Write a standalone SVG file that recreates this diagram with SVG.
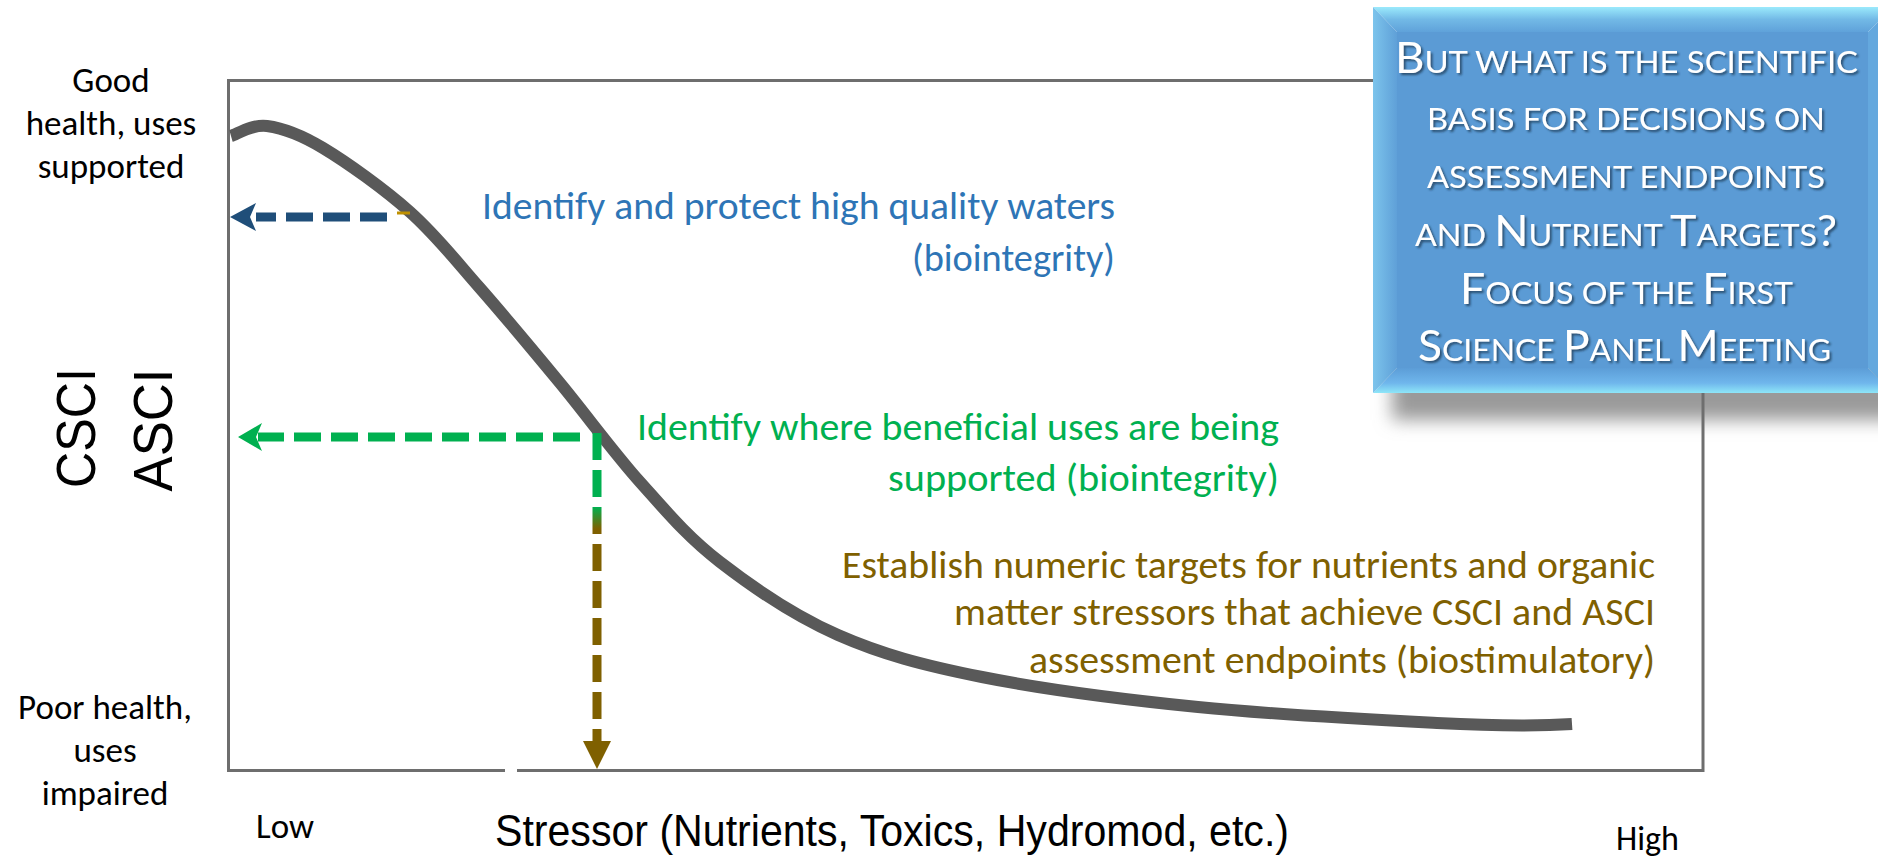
<svg xmlns="http://www.w3.org/2000/svg" width="1878" height="857" viewBox="0 0 1878 857">
<defs>
<style>
.lbl{font-family:Carlito,Calibri,Lato,"Liberation Sans",sans-serif;font-size:35px;fill:#000}
.note{font-family:Carlito,Calibri,Lato,"Liberation Sans",sans-serif;font-size:39.5px}
.geo{font-family:"Liberation Sans","DejaVu Sans",sans-serif;fill:#000}
.cl{font-family:Lato,"Open Sans","Liberation Sans",sans-serif;fill:#fff;font-size:31px}
.cl .b{font-size:43px}
.frame{fill:none;stroke:#6e6e6e;stroke-width:3}
.dash{fill:none;stroke-width:9;stroke-dasharray:27 10}
</style>
<linearGradient id="gBrown" gradientUnits="userSpaceOnUse" x1="0" y1="433" x2="0" y2="742">
<stop offset="0.24" stop-color="#00B050"/>
<stop offset="0.31" stop-color="#7F6000"/>
</linearGradient>
<linearGradient id="bevTop" x1="0" y1="0" x2="0" y2="1">
<stop offset="0" stop-color="#9BEAFC"/>
<stop offset="0.5" stop-color="#72B9E6"/>
<stop offset="1" stop-color="#5FA2DA"/>
</linearGradient>
<linearGradient id="bevBot" x1="0" y1="0" x2="0" y2="1">
<stop offset="0" stop-color="#5C9DD7"/>
<stop offset="0.6" stop-color="#6FB6EC"/>
<stop offset="1" stop-color="#8EE6F8"/>
</linearGradient>
<linearGradient id="bevLeft" x1="0" y1="0" x2="1" y2="0">
<stop offset="0" stop-color="#7CC4EC"/>
<stop offset="1" stop-color="#5FA0D8"/>
</linearGradient>
<filter id="blur" x="-20%" y="-50%" width="140%" height="200%">
<feGaussianBlur stdDeviation="9"/>
</filter>
<filter id="tshadow" x="-5%" y="-30%" width="110%" height="160%">
<feDropShadow dx="2" dy="2" stdDeviation="1.2" flood-color="#1a3550" flood-opacity="0.75"/>
</filter>
</defs>

<g id="callout-shadow">
<rect x="1392" y="368" width="530" height="52" fill="#9a9a9a" filter="url(#blur)"/>
</g>

<g id="plot-frame">
<rect class="frame" x="228.5" y="80.5" width="1474.5" height="690"/>
<rect x="505" y="767" width="12" height="7" fill="#fff"/>
</g>

<g id="response-curve">
<path d="M231,136 C237,134.3 251.7,124 267,126 C282.3,128 299.2,133.7 323,148 C346.8,162.3 384,188.8 410,212 C436,235.2 454,258.5 479,287 C504,315.5 533.2,350.5 560,383 C586.8,415.5 613.3,452.2 640,482 C666.7,511.8 687,536.5 720,562 C753,587.5 794.3,615.8 838,635 C881.7,654.2 922,665 982,677 C1042,689 1122.2,699.3 1198,707 C1273.8,714.7 1374.7,719.8 1437,723 C1499.3,726.2 1549.5,725.5 1572,724" fill="none" stroke="#595959" stroke-width="12"/>
</g>

<g id="connectors">
<line x1="397" y1="213" x2="410" y2="213" stroke="#BF9000" stroke-width="3"/>
<path class="dash" d="M387,217 H256" stroke="#1F4E79" stroke-dasharray="28 9"/>
<polygon points="230,217 256,203 250,217 256,231" fill="#1F4E79"/>
<path class="dash" d="M580,437 H258" stroke="#00B050"/>
<polygon points="238,437 262,423 256,437 262,451" fill="#00B050"/>
<path class="dash" d="M597,433 V742" stroke="url(#gBrown)"/>
<polygon points="597,769 583,741 611,741" fill="#7F6000"/>
</g>

<g id="label-good">
<text class="lbl" x="111" y="92" text-anchor="middle">Good</text>
<text class="lbl" x="111" y="135" text-anchor="middle">health, uses</text>
<text class="lbl" x="111" y="178" text-anchor="middle">supported</text>
</g>

<g id="label-poor">
<text class="lbl" x="105" y="719" text-anchor="middle">Poor health,</text>
<text class="lbl" x="105" y="762" text-anchor="middle">uses</text>
<text class="lbl" x="105" y="805" text-anchor="middle">impaired</text>
</g>

<g id="label-y-axis">
<text class="geo" font-size="56" transform="translate(95,428) rotate(-90)" text-anchor="middle" textLength="120" lengthAdjust="spacingAndGlyphs">CSCI</text>
<text class="geo" font-size="56" transform="translate(172,430) rotate(-90)" text-anchor="middle" textLength="123" lengthAdjust="spacingAndGlyphs">ASCI</text>
</g>

<g id="label-x-axis">
<text class="lbl" x="256" y="838" textLength="58" lengthAdjust="spacingAndGlyphs">Low</text>
<text class="geo" font-size="45" x="495" y="846" textLength="794" lengthAdjust="spacingAndGlyphs">Stressor (Nutrients, Toxics, Hydromod, etc.)</text>
<text class="lbl" x="1616" y="850" textLength="63" lengthAdjust="spacingAndGlyphs">High</text>
</g>

<g id="note-blue" fill="#2E75B6">
<text class="note" x="482" y="219" textLength="633" lengthAdjust="spacingAndGlyphs">Identify and protect high quality waters</text>
<text class="note" x="912" y="271" textLength="203" lengthAdjust="spacingAndGlyphs">(biointegrity)</text>
</g>

<g id="note-green" fill="#00B050">
<text class="note" x="637" y="440" textLength="642" lengthAdjust="spacingAndGlyphs">Identify where beneficial uses are being</text>
<text class="note" x="888" y="491" textLength="391" lengthAdjust="spacingAndGlyphs">supported (biointegrity)</text>
</g>

<g id="note-brown" fill="#7F6000">
<text class="note" x="842" y="578" textLength="813" lengthAdjust="spacingAndGlyphs">Establish numeric targets for nutrients and organic</text>
<text class="note" x="954" y="625" textLength="701" lengthAdjust="spacingAndGlyphs">matter stressors that achieve CSCI and ASCI</text>
<text class="note" x="1029" y="673" textLength="626" lengthAdjust="spacingAndGlyphs">assessment endpoints (biostimulatory)</text>
</g>

<g id="callout">
<rect x="1397" y="32" width="471" height="336" fill="#5B9BD5"/>
<polygon points="1373,7 1893,7 1868,32 1397,32" fill="url(#bevTop)"/>
<polygon points="1397,368 1868,368 1893,393 1373,393" fill="url(#bevBot)"/>
<polygon points="1373,7 1397,32 1397,368 1373,393" fill="url(#bevLeft)"/>
<polygon points="1893,7 1868,32 1868,368 1893,393" fill="#64A8DE"/>
<g filter="url(#tshadow)">
<text class="cl" x="1395" y="73" textLength="463" lengthAdjust="spacingAndGlyphs"><tspan class="b">B</tspan>UT WHAT IS THE SCIENTIFIC</text>
<text class="cl" x="1427" y="130" textLength="398" lengthAdjust="spacingAndGlyphs">BASIS FOR DECISIONS ON</text>
<text class="cl" x="1427" y="188" textLength="398" lengthAdjust="spacingAndGlyphs">ASSESSMENT ENDPOINTS</text>
<text class="cl" x="1415" y="246" textLength="422" lengthAdjust="spacingAndGlyphs">AND <tspan class="b">N</tspan>UTRIENT <tspan class="b">T</tspan>ARGETS<tspan class="b">?</tspan></text>
<text class="cl" x="1460" y="304" textLength="333" lengthAdjust="spacingAndGlyphs"><tspan class="b">F</tspan>OCUS OF THE <tspan class="b">F</tspan>IRST</text>
<text class="cl" x="1418" y="361" textLength="413" lengthAdjust="spacingAndGlyphs"><tspan class="b">S</tspan>CIENCE <tspan class="b">P</tspan>ANEL <tspan class="b">M</tspan>EETING</text>
</g>
</g>
</svg>
